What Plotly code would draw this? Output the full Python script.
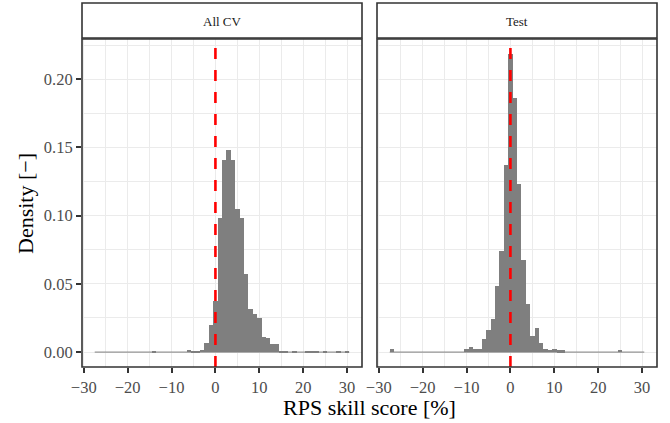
import plotly.graph_objects as go

# ---- data ----
bin_centers = list(range(-27, 31))  # histogram bins of width 1 (RPS skill score, %)
density_all_cv = [
    0, 0, 0, 0, 0, 0, 0, 0, 0, 0, 0, 0, 0,          # -27 .. -15
    0.0007,                                          # -14
    0, 0, 0, 0, 0, 0, 0,                             # -13 .. -7
    0.0017, 0.001, 0.001, 0.0017, 0.0068, 0.0195,    # -6 .. -1
    0.0378, 0.098, 0.141, 0.148, 0.141, 0.105, 0.098, 0.057,
    0.0317, 0.028, 0.025, 0.0112, 0.0105, 0.0063, 0.0063,   # 0 .. 14
    0.0007, 0.0004, 0, 0.0007, 0, 0, 0.0007, 0.0007,
    0.0007, 0, 0.0007, 0, 0, 0.0007, 0, 0.0007,     # 15 .. 30
]
density_test = [
    0.0024,                                          # -27
    0, 0, 0, 0, 0, 0, 0, 0, 0, 0, 0, 0, 0, 0, 0, 0,  # -26 .. -11
    0.0024, 0.0037, 0.0024, 0.0024, 0.0098, 0.0164, 0.0244, 0.0486, 0.0743, 0.137,  # -10 .. -1
    0.2186, 0.186, 0.123, 0.0677, 0.0354, 0.0117, 0.0175, 0.0065,
    0.0022, 0.0015, 0.0022, 0.0013, 0.0013,          # 0 .. 12
    0, 0, 0, 0, 0, 0, 0, 0, 0, 0, 0, 0,              # 13 .. 24
    0.0015,                                          # 25
    0, 0, 0, 0, 0,                                   # 26 .. 30
]
panel_titles = ["All CV", "Test"]
x_ticks = [-30, -20, -10, 0, 10, 20, 30]
y_ticks = [0.00, 0.05, 0.10, 0.15, 0.20]
data_min, data_max = -27.5, 30.5
ref_line_x = 0

# ---- layout geometry ----
W, H = 670, 423
FONT = "Liberation Serif"
BAR = "#7F7F7F"
GRID = "#EBEBEB"
BORDER = "#333333"

px_left = [(82, 362), (377, 657)]
py_top, py_bot = 39, 367
strip_top, strip_bot = 3, 38

def fx(px):
    return px / W

def fy(py):
    return 1 - py / H

xrange = [data_min - 0.05 * (data_max - data_min), data_max + 0.05 * (data_max - data_min)]
ymax = max(max(density_all_cv), max(density_test))
yrange = [-0.05 * ymax, ymax * 1.05]

fig = go.Figure()
series = [density_all_cv, density_test]
for i, dens in enumerate(series):
    xa = "x" if i == 0 else "x2"
    ya = "y" if i == 0 else "y2"
    fig.add_trace(go.Scatter(x=[data_min, data_max], y=[0, 0], mode="lines",
                             line=dict(color=BAR, width=1), xaxis=xa, yaxis=ya,
                             hoverinfo="skip", showlegend=False))
    fig.add_trace(go.Bar(x=bin_centers, y=dens, width=1, marker=dict(color=BAR, line=dict(width=0)),
                         xaxis=xa, yaxis=ya, showlegend=False))
    fig.add_trace(go.Scatter(x=[ref_line_x, ref_line_x], y=yrange, mode="lines",
                             line=dict(color="#FF0000", width=2.6, dash="11px,11px"),
                             xaxis=xa, yaxis=ya, hoverinfo="skip", showlegend=False))

TICKFONT = dict(family=FONT, size=16.5, color="#4D4D4D")
axis_common = dict(
    range=xrange, tickvals=x_ticks, ticktext=[("\u2212" + str(-v)) if v < 0 else str(v) for v in x_ticks],
    ticks="outside", ticklen=5, tickwidth=1.5, tickcolor=BORDER, automargin=False,
    showgrid=True, gridcolor=GRID, gridwidth=1.4, zeroline=False, showline=False,
    tickfont=TICKFONT,
    minor=dict(tickvals=[-25, -15, -5, 5, 15, 25], showgrid=True, gridcolor=GRID, gridwidth=0.7, ticks=""),
)
ygrid_minor = dict(tickvals=[0.025, 0.075, 0.125, 0.175, 0.225], showgrid=True,
                   gridcolor=GRID, gridwidth=0.7, ticks="")
fig.update_layout(
    template="none",
    xaxis=dict(domain=[fx(px_left[0][0]), fx(px_left[0][1])], anchor="y", **axis_common),
    xaxis2=dict(domain=[fx(px_left[1][0]), fx(px_left[1][1])], anchor="y2", **axis_common),
    yaxis=dict(domain=[fy(py_bot), fy(py_top)], range=yrange, anchor="x", automargin=False,
               tickvals=y_ticks, ticktext=["%.2f" % v for v in y_ticks],
               ticks="outside", ticklen=5, tickwidth=1.5, tickcolor=BORDER,
               showgrid=True, gridcolor=GRID, gridwidth=1.4, zeroline=False, showline=False,
               tickfont=TICKFONT, minor=ygrid_minor),
    yaxis2=dict(domain=[fy(py_bot), fy(py_top)], range=yrange, anchor="x2", matches="y", automargin=False,
                tickvals=y_ticks, showticklabels=False, ticks="",
                showgrid=True, gridcolor=GRID, gridwidth=1.4, zeroline=False, showline=False,
                minor=ygrid_minor),
    width=W, height=H, margin=dict(l=0, r=0, t=0, b=0, autoexpand=False),
    paper_bgcolor="white", plot_bgcolor="white", bargap=0,
    font=dict(family=FONT, color="#1A1A1A"),
)

shapes = []
annotations = []
for i, (x0, x1) in enumerate(px_left):
    shapes.append(dict(type="rect", xref="paper", yref="paper", x0=fx(x0), x1=fx(x1),
                       y0=fy(py_bot), y1=fy(py_top), line=dict(color=BORDER, width=1.6),
                       fillcolor="rgba(0,0,0,0)", layer="above"))
    shapes.append(dict(type="rect", xref="paper", yref="paper", x0=fx(x0), x1=fx(x1),
                       y0=fy(strip_bot), y1=fy(strip_top), line=dict(color=BORDER, width=1.6),
                       fillcolor="white", layer="above"))
    annotations.append(dict(text=panel_titles[i], xref="paper", yref="paper",
                            x=fx((x0 + x1) / 2), y=fy((strip_top + strip_bot) / 2 + 1),
                            showarrow=False, xanchor="center", yanchor="middle",
                            font=dict(family=FONT, size=13, color="#1A1A1A")))
annotations.append(dict(text="RPS skill score [%]", xref="paper", yref="paper",
                        x=fx((px_left[0][0] + px_left[1][1]) / 2), y=fy(407),
                        showarrow=False, xanchor="center", yanchor="middle",
                        font=dict(family=FONT, size=22, color="#000000")))
annotations.append(dict(text="Density [\u2212]", xref="paper", yref="paper",
                        x=fx(25), y=fy((py_top + py_bot) / 2), textangle=-90,
                        showarrow=False, xanchor="center", yanchor="middle",
                        font=dict(family=FONT, size=22, color="#000000")))
fig.update_layout(shapes=shapes, annotations=annotations)

fig.write_html("out.html")
